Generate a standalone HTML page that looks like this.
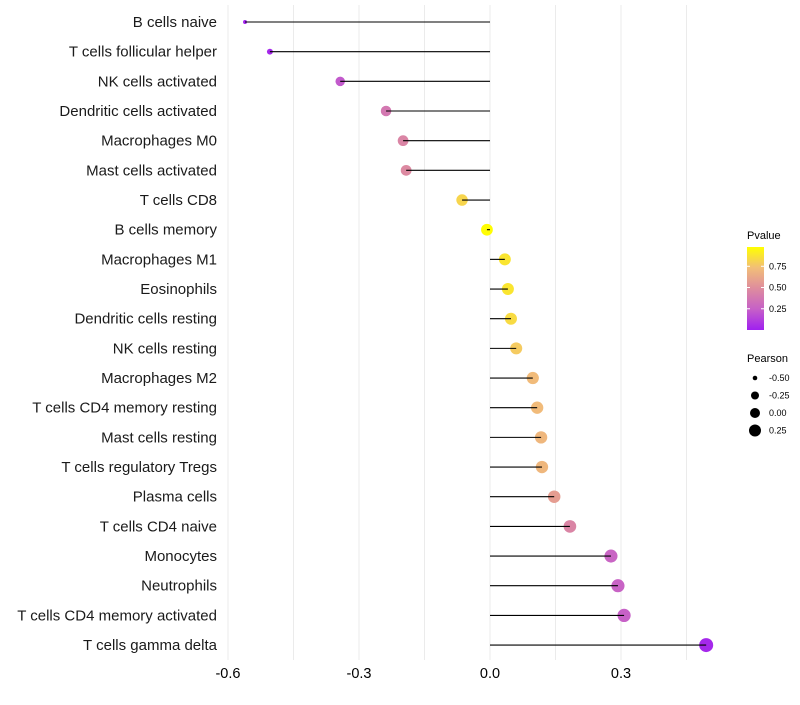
<!DOCTYPE html>
<html><head><meta charset="utf-8"><style>
body{margin:0;background:#fff;}
svg text{font-family:"Liberation Sans",Arial,sans-serif;}
</style></head><body>
<svg id="chart" width="800" height="700"></svg>
<script>
const categories=["B cells naive","T cells follicular helper","NK cells activated","Dendritic cells activated","Macrophages M0","Mast cells activated","T cells CD8","B cells memory","Macrophages M1","Eosinophils","Dendritic cells resting","NK cells resting","Macrophages M2","T cells CD4 memory resting","Mast cells resting","T cells regulatory  Tregs ","Plasma cells","T cells CD4 naive","Monocytes","Neutrophils","T cells CD4 memory activated","T cells gamma delta"];
const pearson=[-0.561,-0.504,-0.343,-0.238,-0.199,-0.192,-0.064,-0.007,0.034,0.041,0.048,0.060,0.098,0.108,0.117,0.119,0.147,0.183,0.277,0.293,0.307,0.495];
const pvalue=[0.01,0.03,0.22,0.38,0.45,0.47,0.82,0.97,0.88,0.88,0.84,0.78,0.72,0.72,0.70,0.70,0.57,0.45,0.27,0.26,0.25,0.03];
const xTicks=[-0.6,-0.3,0.0,0.3];
const xTickLabels=["-0.6","-0.3","0.0","0.3"];
const pTicks=[0.25,0.5,0.75];
const pTickLabels=["0.25","0.50","0.75"];
const sizeTicks=[-0.5,-0.25,0,0.25];
const sizeTickLabels=["-0.50","-0.25","0.00","0.25"];

const NS="http://www.w3.org/2000/svg";
const svg=document.getElementById('chart');
function mk(t,a,p){const e=document.createElementNS(NS,t);for(const k in a)e.setAttribute(k,a[k]);(p||svg).appendChild(e);return e;}
const x=v=>490+v*436.7;
const y=i=>22+i*29.67;
const pMax=0.977;
const stops=[[0,[160,32,240]],[0.25,[198,96,200]],[0.5,[222,140,158]],[0.75,[242,190,120]],[1,[255,255,0]]];
function col(p){let t=Math.max(0,Math.min(1,p/pMax));for(let i=1;i<stops.length;i++){if(t<=stops[i][0]){const a=stops[i-1],b=stops[i];const f=(t-a[0])/(b[0]-a[0]);const c=a[1].map((v,j)=>Math.round(v+(b[1][j]-v)*f));return `rgb(${c})`;}}return 'rgb(255,255,0)';}
function rad(v){const a=v< -0.3 ? 4+(v+0.56)*85 : 26+(v+0.3)*29;return Math.sqrt(Math.max(3,a));}

for(let g=-0.6;g<=0.46;g+=0.15){const l=mk('line',{x1:x(g),x2:x(g),y1:5,y2:660,stroke:'#ebebeb','stroke-width':1});
}
xTicks.forEach((t,i)=>{const tx=mk('text',{x:x(t),y:678,'font-size':14.5,'text-anchor':'middle',fill:'#000'});tx.textContent=xTickLabels[i];
});
categories.forEach((c,i)=>{
const tx=mk('text',{x:217,y:y(i)+5,'font-size':15,'text-anchor':'end',fill:'#1a1a1a'});tx.textContent=c;

const d=mk('circle',{cx:x(pearson[i]),cy:y(i),r:rad(pearson[i]),fill:col(pvalue[i])});

const l=mk('line',{x1:x(0),x2:x(pearson[i]),y1:y(i),y2:y(i),stroke:'#000','stroke-width':1.1});

});
const lt=mk('text',{x:747,y:239,'font-size':11});lt.textContent="Pvalue";

const defs=mk('defs',{});const gr=mk('linearGradient',{id:'pg',x1:0,y1:1,x2:0,y2:0},defs);
stops.forEach(s=>mk('stop',{offset:s[0],'stop-color':`rgb(${s[1]})`},gr));
const bar=mk('rect',{x:747,y:247,width:17,height:83,fill:'url(#pg)'});

pTicks.forEach((t,i)=>{const yy=330-t/pMax*83;
mk('line',{x1:747,x2:750,y1:yy,y2:yy,stroke:'#fff'});mk('line',{x1:761,x2:764,y1:yy,y2:yy,stroke:'#fff'});
const tx=mk('text',{x:769,y:yy+3,'font-size':9});tx.textContent=pTickLabels[i];
});
const st=mk('text',{x:747,y:362,'font-size':11});st.textContent="Pearson";

const legR=[2.3,4,5,6];
sizeTicks.forEach((t,i)=>{const yy=378+i*17.5;
const c=mk('circle',{cx:755,cy:yy,r:legR[i],fill:'#000'});

const tx=mk('text',{x:769,y:yy+3,'font-size':9});tx.textContent=sizeTickLabels[i];
});
</script>
</body></html>
